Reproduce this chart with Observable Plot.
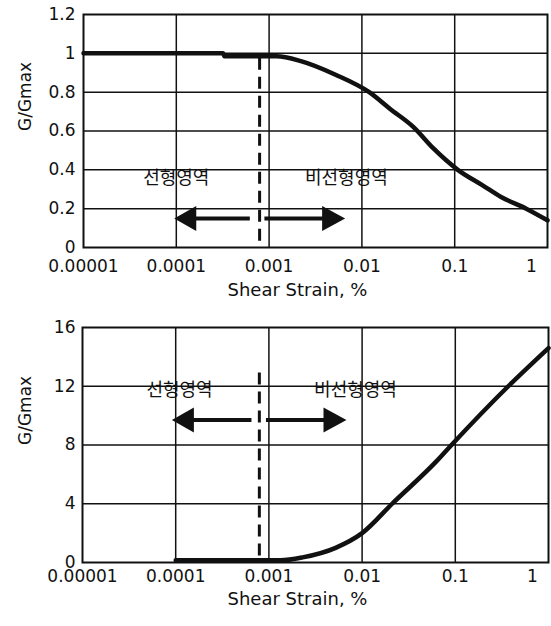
<!DOCTYPE html>
<html>
<head>
<meta charset="utf-8">
<script src="https://cdn.jsdelivr.net/npm/d3@7"></script>
<script src="https://cdn.jsdelivr.net/npm/@observablehq/plot@0.6"></script>
<style>
  body { margin: 0; background: #fff; }
  svg { display: block; }
</style>
</head>
<body>
<div id="chart"></div>
<script>
// ---- shared axis values ----
const xTicks = [0.00001, 0.0001, 0.001, 0.01, 0.1, 1];
const xTickLabels = ["0.00001", "0.0001", "0.001", "0.01", "0.1", "1"];
const xGrid = [0.0001, 0.001, 0.01, 0.1];
const xAxisTitle = "Shear Strain, %";
const yAxisTitle = "G/Gmax";
const regionLabels = ["선형영역", "비선형영역"];

// ---- top chart (G/Gmax decay) ----
const topYTicks = [0, 0.2, 0.4, 0.6, 0.8, 1, 1.2];
const topYTickLabels = ["0", "0.2", "0.4", "0.6", "0.8", "1", "1.2"];
const topStrain = [0.00001, 0.00032, 0.00033, 0.0012, 0.0022, 0.0052, 0.012, 0.02, 0.036, 0.059, 0.108, 0.2, 0.316, 0.59, 1];
const topRatio  = [1.0, 1.0, 0.985, 0.985, 0.96, 0.89, 0.8, 0.715, 0.62, 0.51, 0.4, 0.32, 0.26, 0.2, 0.14];
const topBoundary = 0.00079;
const topBoundaryTop = 0.975;
const topArrowY = 0.15;
const topArrowTail = [0.00062, 0.00089];
const topArrowTip = [0.000095, 0.0066];
const topLabelX = [0.0001, 0.0068];
const topLabelY = 0.355;

// ---- bottom chart ----
const botYTicks = [0, 4, 8, 12, 16];
const botYTickLabels = ["0", "4", "8", "12", "16"];
const botStrain = [0.0001, 0.00133, 0.0023, 0.0052, 0.01, 0.021, 0.063, 0.091, 0.37, 1];
const botRatio  = [0.15, 0.15, 0.35, 1.0, 2.0, 4.0, 6.9, 8.0, 12.0, 14.6];
const botBoundary = 0.00079;
const botBoundaryTop = 12.9;
const botArrowY = 9.7;
const botArrowTail = [0.00065, 0.00093];
const botArrowTip = [0.000091, 0.0068];
const botLabelX = [0.00011, 0.0085];
const botLabelY = 11.7;

const ink = "#111";
const numFont = "DejaVu Sans, Liberation Sans, sans-serif";
const krFont = "Noto Sans CJK KR, sans-serif";

// filled arrow heads (tip at the dot's position)
const leftHead = { draw(ctx) { ctx.moveTo(0, 0); ctx.lineTo(22, -12.5); ctx.lineTo(22, 12.5); ctx.closePath(); } };
const rightHead = { draw(ctx) { ctx.moveTo(0, 0); ctx.lineTo(-23, -12.5); ctx.lineTo(-23, 12.5); ctx.closePath(); } };

function makeChart(c) {
  const curve = c.strain.map((s, i) => ({ s, r: c.ratio[i] }));
  const shafts = [
    { x1: c.arrowTail[0], x2: c.arrowTip[0] * 1.6, y: c.arrowY },
    { x1: c.arrowTail[1], x2: c.arrowTip[1] / 1.7, y: c.arrowY }
  ];
  const labels = regionLabels.map((t, i) => ({ t, x: c.labelX[i], y: c.labelY }));
  const innerY = c.yTicks.slice(1, -1);
  return Plot.plot({
    width: 551,
    height: c.height,
    marginLeft: c.marginLeft,
    marginRight: c.marginRight,
    marginTop: c.marginTop,
    marginBottom: c.marginBottom,
    style: { fontFamily: numFont, fontSize: "17px", color: ink, background: "#fff" },
    x: { type: "log", domain: [0.00001, 1] },
    y: { domain: c.yDomain },
    marks: [
      Plot.gridX(xGrid, { stroke: ink, strokeOpacity: 1, strokeWidth: 1.5 }),
      Plot.gridY(innerY, { stroke: ink, strokeOpacity: 1, strokeWidth: 1.5 }),
      Plot.axisY(c.yTicks, {
        tickSize: 0, tickPadding: c.yPad, fontSize: 17,
        tickFormat: d => c.yTickLabels[c.yTicks.indexOf(d)]
      }),
      Plot.axisX(xTicks.slice(0, 5), {
        tickSize: 0, tickPadding: c.xPad, fontSize: 17,
        tickFormat: d => xTickLabels[xTicks.indexOf(d)]
      }),
      Plot.axisX(xTicks.slice(5), {
        tickSize: 0, tickPadding: c.xPad, fontSize: 17, dx: -16,
        tickFormat: d => xTickLabels[xTicks.indexOf(d)]
      }),
      Plot.text([xAxisTitle], { frameAnchor: "bottom", dy: c.titleDy, dx: -18, fontSize: 18, fontFamily: numFont, fill: ink }),
      Plot.text([yAxisTitle], { frameAnchor: "left", dx: c.yTitleDx, rotate: -90, fontSize: 17, fontFamily: numFont, fill: ink }),
      Plot.ruleX([c.boundary], { y1: c.boundaryTop, y2: 0, stroke: ink, strokeWidth: 3, strokeDasharray: "12,7" }),
      Plot.link(shafts, { x1: "x1", x2: "x2", y1: "y", y2: "y", stroke: ink, strokeWidth: 4 }),
      Plot.dot([c.arrowTip[0]], { x: d => d, y: () => c.arrowY, symbol: leftHead, r: 10, fill: ink, stroke: "none" }),
      Plot.dot([c.arrowTip[1]], { x: d => d, y: () => c.arrowY, symbol: rightHead, r: 10, fill: ink, stroke: "none" }),
      Plot.text(labels, { x: "x", y: "y", text: "t", fontSize: 18, fontFamily: krFont, fill: ink }),
      Plot.line(curve, { x: "s", y: "r", stroke: ink, strokeWidth: 4.5, curve: "monotone-x" }),
      Plot.frame({ stroke: ink, strokeWidth: 2 })
    ]
  });
}

const topChart = makeChart({
  height: 310, marginLeft: 83, marginRight: 4, marginTop: 14, marginBottom: 63,
  yDomain: [0, 1.2], yTicks: topYTicks, yTickLabels: topYTickLabels,
  yPad: 8, xPad: 12, titleDy: 48, yTitleDx: -58,
  strain: topStrain, ratio: topRatio,
  boundary: topBoundary, boundaryTop: topBoundaryTop,
  arrowY: topArrowY, arrowTail: topArrowTail, arrowTip: topArrowTip,
  labelX: topLabelX, labelY: topLabelY
});

const bottomChart = makeChart({
  height: 316, marginLeft: 82, marginRight: 3, marginTop: 17, marginBottom: 64,
  yDomain: [0, 16], yTicks: botYTicks, yTickLabels: botYTickLabels,
  yPad: 7, xPad: 7, titleDy: 42, yTitleDx: -57,
  strain: botStrain, ratio: botRatio,
  boundary: botBoundary, boundaryTop: botBoundaryTop,
  arrowY: botArrowY, arrowTail: botArrowTail, arrowTip: botArrowTip,
  labelX: botLabelX, labelY: botLabelY
});

const root = document.getElementById("chart");
root.appendChild(topChart);
root.appendChild(bottomChart);
</script>
</body>
</html>
